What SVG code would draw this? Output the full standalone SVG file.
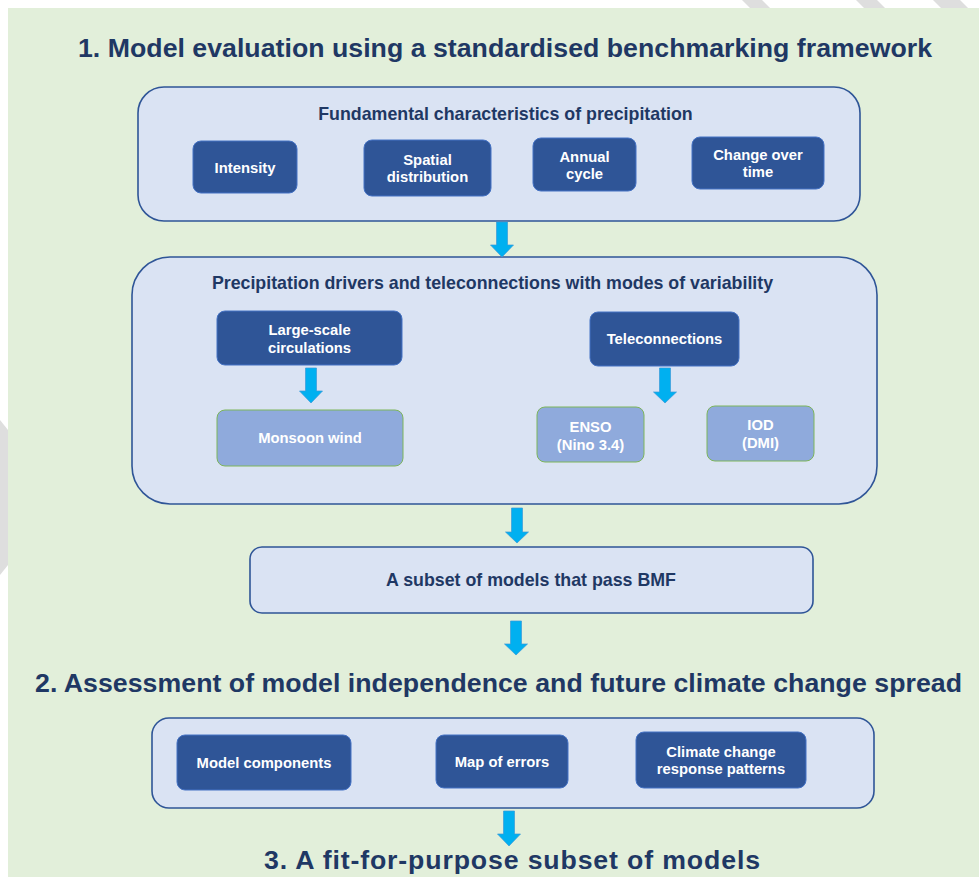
<svg xmlns="http://www.w3.org/2000/svg" width="979" height="877" viewBox="0 0 979 877">
<style>
.title{font-family:"Liberation Sans",Arial,sans-serif;font-weight:bold;font-size:26.7px;fill:#1F3864;text-anchor:middle}
.sub{font-family:"Liberation Sans",Arial,sans-serif;font-weight:bold;font-size:17.8px;fill:#1F3864;text-anchor:middle}
.lbl{font-family:"Liberation Sans",Arial,sans-serif;font-weight:bold;font-size:14.8px;fill:#FFFFFF;text-anchor:middle}
.cont{fill:#DAE3F3;stroke:#2F5597;stroke-width:1.6}
.dark{fill:#2F5597;stroke:#4472C4;stroke-width:1}
.light{fill:#8FAADC;stroke:#7DB55A;stroke-width:1}
.arr{fill:#00B0F0;stroke:#3A9AD9;stroke-width:0.7}
.wm{fill:#DEDEDE}
</style>
<rect x="0" y="0" width="979" height="877" fill="#FFFFFF"/>
<g id="watermark">
<polygon class="wm" points="742,0 762,0 770,8 750,8"/>
<polygon class="wm" points="856,0 877,0 885,8 864,8"/>
<polygon class="wm" points="933,0 960,0 968,8 941,8"/>
<polygon class="wm" points="0,420 8,430 8,565 0,575"/>
</g>
<rect id="background" x="8" y="8" width="971" height="869" fill="#E2EFDA"/>
<text class="title" x="505" y="57" textLength="854">1. Model evaluation using a standardised benchmarking framework</text>
<text class="title" x="498.5" y="692" textLength="927">2. Assessment of model independence and future climate change spread</text>
<text class="title" x="512" y="869" textLength="496">3. A fit-for-purpose subset of models</text>

<g id="box-fundamental">
<rect class="cont" x="138" y="87" width="722" height="134" rx="26"/>
<text class="sub" x="505.5" y="120">Fundamental characteristics of precipitation</text>
</g>
<g id="node-intensity">
<rect class="dark" x="193" y="141" width="104" height="52" rx="8"/>
<text class="lbl" x="245" y="173">Intensity</text>
</g>
<g id="node-spatial">
<rect class="dark" x="364" y="140" width="127" height="56" rx="8"/>
<text class="lbl" x="427.5" y="165">Spatial</text>
<text class="lbl" x="427.5" y="182">distribution</text>
</g>
<g id="node-annual">
<rect class="dark" x="533" y="138" width="103" height="53" rx="8"/>
<text class="lbl" x="584.5" y="161.5">Annual</text>
<text class="lbl" x="584.5" y="178.5">cycle</text>
</g>
<g id="node-change">
<rect class="dark" x="692" y="137" width="132" height="52" rx="8"/>
<text class="lbl" x="758" y="160">Change over</text>
<text class="lbl" x="758" y="177">time</text>
</g>

<g id="box-drivers">
<rect class="cont" x="132" y="257" width="745" height="247" rx="38"/>
<text class="sub" x="492.5" y="289">Precipitation drivers and teleconnections with modes of variability</text>
</g>
<g id="node-largescale">
<rect class="dark" x="217" y="311" width="185" height="54" rx="8"/>
<text class="lbl" x="309.5" y="335">Large-scale</text>
<text class="lbl" x="309.5" y="353">circulations</text>
</g>
<g id="node-monsoon">
<rect class="light" x="217" y="410" width="186" height="56" rx="8"/>
<text class="lbl" x="310" y="443">Monsoon wind</text>
</g>
<g id="node-teleconnections">
<rect class="dark" x="590" y="312" width="149" height="54" rx="8"/>
<text class="lbl" x="664.5" y="344">Teleconnections</text>
</g>
<g id="node-enso">
<rect class="light" x="537" y="407" width="107" height="55" rx="8"/>
<text class="lbl" x="590.5" y="432">ENSO</text>
<text class="lbl" x="590.5" y="450">(Nino 3.4)</text>
</g>
<g id="node-iod">
<rect class="light" x="707" y="406" width="107" height="55" rx="8"/>
<text class="lbl" x="760.5" y="430">IOD</text>
<text class="lbl" x="760.5" y="448">(DMI)</text>
</g>

<g id="box-bmf">
<rect class="cont" x="250" y="547" width="563" height="66" rx="12"/>
<text class="sub" x="531" y="586">A subset of models that pass BMF</text>
</g>

<g id="box-independence">
<rect class="cont" x="152" y="718" width="722" height="90" rx="17"/>
</g>
<g id="node-components">
<rect class="dark" x="177" y="735" width="174" height="55" rx="8"/>
<text class="lbl" x="264" y="768">Model components</text>
</g>
<g id="node-errors">
<rect class="dark" x="436" y="735" width="132" height="53" rx="8"/>
<text class="lbl" x="502" y="767">Map of errors</text>
</g>
<g id="node-response">
<rect class="dark" x="636" y="732" width="170" height="56" rx="8"/>
<text class="lbl" x="721" y="757">Climate change</text>
<text class="lbl" x="721" y="774">response patterns</text>
</g>

<g id="connectors">
<polygon class="arr" points="496.5,222 507.5,222 507.5,245 513.5,245 502,257 490.5,245 496.5,245"/>
<polygon class="arr" points="305.5,368 316.5,368 316.5,391 322.5,391 311,403 299.5,391 305.5,391"/>
<polygon class="arr" points="659.5,368 670.5,368 670.5,392 676.5,392 665,403 653.5,392 659.5,392"/>
<polygon class="arr" points="511.5,508 522.5,508 522.5,532 528.5,532 517,543 505.5,532 511.5,532"/>
<polygon class="arr" points="510.5,621 521.5,621 521.5,644 527.5,644 516,655 504.5,644 510.5,644"/>
<polygon class="arr" points="503.5,811 514.5,811 514.5,834 520.5,834 509,846 497.5,834 503.5,834"/>
</g>
</svg>
